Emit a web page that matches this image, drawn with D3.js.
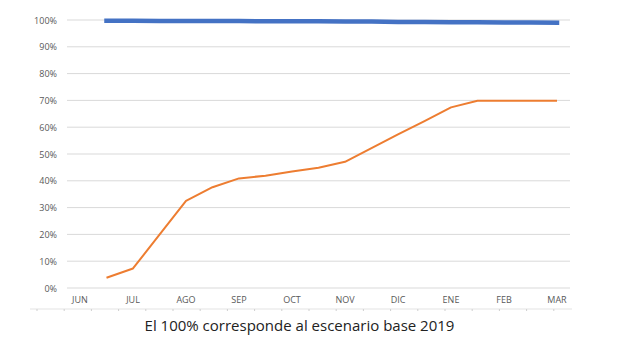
<!DOCTYPE html>
<html><head><meta charset="utf-8">
<script src="https://cdn.jsdelivr.net/npm/d3@7"></script>
<style>body{margin:0;background:#fff}svg{display:block}</style>
</head><body>
<svg id="c" width="622" height="355"></svg>
<script>
const months = ["JUN","JUL","AGO","SEP","OCT","NOV","DIC","ENE","FEB","MAR"];
const yTicks = [0,0.1,0.2,0.3,0.4,0.5,0.6,0.7,0.8,0.9,1];
// x positions in month units (0 = JUN), half-month steps
const xPos = [0.5,1,1.5,2,2.5,3,3.5,4,4.5,5,5.5,6,6.5,7,7.5,8,8.5,9];
const baseSeries = [0.997,0.997,0.996,0.996,0.996,0.996,0.995,0.995,0.995,0.994,0.994,0.993,0.993,0.992,0.992,0.991,0.991,0.990];
const recovery = [0.038,0.073,0.199,0.325,0.376,0.409,0.419,0.435,0.449,0.471,0.522,0.573,0.623,0.674,0.699,0.699,0.699,0.699];
const caption = "El 100% corresponde al escenario base 2019";

const svg = d3.select("#c");
const x = d3.scaleLinear().domain([0, months.length-1]).range([80,557]);
const y = d3.scaleLinear().domain([0,1]).range([288,20]);
const gridL = 67, gridR = 570;

// gridlines
svg.append("g").selectAll("line").data(yTicks).join("line")
  .attr("x1",gridL).attr("x2",gridR)
  .attr("y1",d=>y(d)).attr("y2",d=>y(d))
  .attr("stroke","#d9d9d9").attr("stroke-width",1);

// y labels
svg.append("g").selectAll("text").data(yTicks).join("text")
  .attr("x",57).attr("y",d=>y(d)+3.5)
  .attr("text-anchor","end")
  .attr("font-family","Open Sans, sans-serif").attr("font-size",9)
  .attr("fill","#595959")
  .text(d=>d3.format(".0%")(d));

// x labels
svg.append("g").selectAll("text").data(months).join("text")
  .attr("x",(d,i)=>x(i)).attr("y",303)
  .attr("text-anchor","middle")
  .attr("font-family","Open Sans, sans-serif").attr("font-size",9)
  .attr("fill","#595959")
  .text(d=>d);

// bottom faint rule with ticks
svg.append("line").attr("x1",30).attr("x2",572).attr("y1",309).attr("y2",309)
  .attr("stroke","#e3e3e3").attr("stroke-width",1.2);
svg.append("g").selectAll("line").data(d3.range(37,572,27.2)).join("line")
  .attr("x1",d=>d).attr("x2",d=>d).attr("y1",309).attr("y2",311)
  .attr("stroke","#cfcfcf");

const line = d3.line().x(d=>x(d[0])).y(d=>y(d[1]));

svg.append("path").datum(xPos.map((p,i)=>[p,baseSeries[i]]))
  .attr("d",line).attr("fill","none")
  .attr("stroke","#4472c4").attr("stroke-width",4.5).attr("stroke-linecap","square");

svg.append("path").datum(xPos.map((p,i)=>[p,recovery[i]]))
  .attr("d",line).attr("fill","none")
  .attr("stroke","#ed7d31").attr("stroke-width",2).attr("stroke-linejoin","round");

svg.append("text").attr("x",299.5).attr("y",331)
  .attr("text-anchor","middle")
  .attr("font-family","Open Sans, sans-serif").attr("font-size",15)
  .attr("fill","#222")
  .text(caption);
</script>
</body></html>
